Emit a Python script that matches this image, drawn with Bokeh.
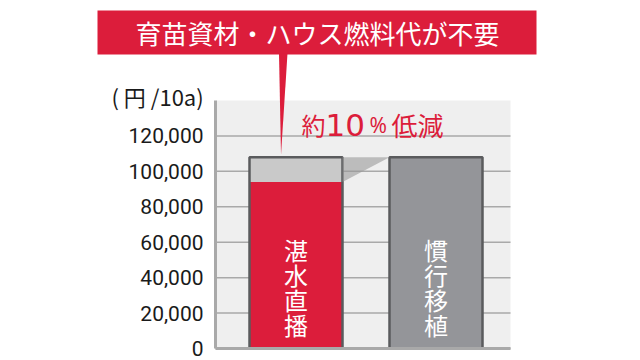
from bokeh.plotting import figure
from bokeh.models import (Range1d, FixedTicker, NumeralTickFormatter, Label,
                          LinearAxis)
from bokeh.embed import file_html
from bokeh.resources import INLINE
from bokeh.core.properties import value

# ---------------- data ----------------
categories = ["湛水直播", "慣行移植"]
direct_seeding_cost = 94000      # red part
direct_seeding_saved = 14000     # light gray part (saved cost)
conventional_cost = 108000       # gray bar
y_ticks = [0, 20000, 40000, 60000, 80000, 100000, 120000]
y_max = 140000
callout_text = "育苗資材・ハウス燃料代が不要"
unit_text = "( 円 /10a)"
reduction_parts = ["約", "10", "%", "低減"]

# ---------------- styles / layout ----------------
RED = "#dc1d3b"
GRAY = "#949599"
LIGHT = "#c9c9c9"
EDGE = "#5a5b5d"
AXIS = "#a9a9a9"
JP = "Noto Sans CJK JP"

W, H = 640, 360
FL, FR, FT, FB = 215, 510, 100, 348          # plot area in page pixels
BAR_PX = 140                                 # pixels per x unit
x_pos = [1, 2]
bar_w = 93 / BAR_PX
x0 = 1 - (295.5 - FL) / BAR_PX
x1 = x0 + (FR - FL) / BAR_PX


def px2x(px):
    return x0 + (px - FL) / BAR_PX


def py2y(py):
    return (FB - py) / (FB - FT) * y_max


p = figure(width=W, height=H, output_backend="svg", toolbar_location=None,
           x_range=Range1d(px2x(0), px2x(W)), y_range=Range1d(py2y(H), py2y(0)),
           x_axis_location=None, y_axis_location=None,
           min_border_left=0, min_border_right=0, min_border_top=0, min_border_bottom=0)
p.background_fill_color = "white"
p.border_fill_color = "white"
p.outline_line_color = None
p.xgrid.visible = False
p.ygrid.visible = False

# plot-area background and grid lines
p.quad(left=[x0], right=[x1], bottom=[0], top=[y_max], fill_color="#efefef",
       line_color=None, level="image")
p.segment(x0=[x0] * len(y_ticks), x1=[x1] * len(y_ticks), y0=y_ticks, y1=y_ticks,
          line_color=AXIS, line_width=1.5, level="underlay")

ax = LinearAxis(fixed_location=x0, bounds=(0, y_max))
ax.ticker = FixedTicker(ticks=y_ticks)
ax.formatter = NumeralTickFormatter(format="0,0")
ax.major_label_text_font = "Roboto"
ax.major_label_text_font_size = "21px"
ax.major_label_text_color = "#1a1a1a"
ax.major_tick_line_color = None
ax.minor_tick_line_color = None
ax.major_tick_out = 0
ax.major_tick_in = 0
ax.major_label_standoff = 12
ax.axis_line_color = AXIS
ax.axis_line_width = 3
p.add_layout(ax, "left")

# bars
totals = [direct_seeding_cost + direct_seeding_saved, conventional_cost]
p.vbar(x=[x_pos[0]], bottom=0, top=[direct_seeding_cost], width=bar_w,
       fill_color=RED, line_color=None)
p.vbar(x=[x_pos[0]], bottom=[direct_seeding_cost], top=[totals[0]], width=bar_w,
       fill_color=LIGHT, line_color=None)
p.vbar(x=[x_pos[1]], bottom=0, top=[conventional_cost], width=bar_w,
       fill_color=GRAY, line_color=None)
p.vbar(x=x_pos, bottom=0, top=totals, width=bar_w,
       fill_color=None, line_color=EDGE, line_width=2.5)

# reduction wedge
rx = x_pos[0] + bar_w / 2
gx = x_pos[1] - bar_w / 2
p.patch(x=[rx, gx, rx], y=[totals[0], conventional_cost, direct_seeding_cost],
        fill_color="#999999", fill_alpha=0.6, line_color=None)

# bottom line
p.segment(x0=[x0], x1=[x1], y0=[0], y1=[0], line_color=AXIS, line_width=3)

# vertical bar labels, one character per row
lx, ly, lt = [], [], []
PITCH = 24.7
for xp, name in zip(x_pos, categories):
    n = len(name)
    for i, ch in enumerate(name):
        lx.append(xp)
        ly.append(py2y(286.5 + (i - (n - 1) / 2) * PITCH))
        lt.append(ch)
p.text(x=lx, y=ly, text=lt, text_color="white", text_font=value(JP),
       text_font_size="24px", text_align="center", text_baseline="middle")

# callout box with pointer
p.quad(left=[px2x(97)], right=[px2x(536)], top=[py2y(10)], bottom=[py2y(54)],
       fill_color=RED, line_color=None)
p.patch(x=[px2x(278.5), px2x(287), px2x(280.5)], y=[py2y(53), py2y(53), py2y(154)],
        fill_color=RED, line_color=None)
p.add_layout(Label(x=px2x(317), y=py2y(32), text=callout_text, text_color="white",
                   text_font=JP, text_font_size="26px", text_align="center",
                   text_baseline="middle"))

# unit
p.add_layout(Label(x=px2x(111), y=py2y(95), text=unit_text, text_color="#1a1a1a",
                   text_font=JP, text_font_size="22px", text_align="left",
                   text_baseline="middle"))

# reduction text
parts_px = [301, 325, 369, 391]
parts_font = [(JP, "24px"), ("DejaVu Sans", "31px"), ("Noto Sans", "21px"), (JP, "26px")]
for t, xx, (f, s) in zip(reduction_parts, parts_px, parts_font):
    p.add_layout(Label(x=px2x(xx), y=py2y(124), text=t, text_color=RED,
                       text_font=f, text_font_size=s, text_align="left",
                       text_baseline="alphabetic"))

open("out.html", "w").write(file_html(p, INLINE))
